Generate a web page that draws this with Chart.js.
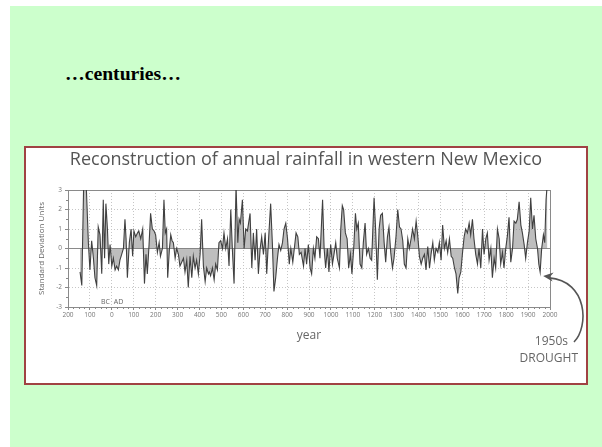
<!DOCTYPE html>
<html>
<head>
<meta charset="utf-8">
<script src="https://cdn.jsdelivr.net/npm/chart.js@4/dist/chart.umd.min.js"></script>
<style>
  html, body { margin: 0; padding: 0; background: #ffffff; width: 602px; height: 447px; overflow: hidden; }
  #slide { position: absolute; left: 10px; top: 6px; right: 0; bottom: 0; background: #ccffcc; }
  #heading { position: absolute; left: 65px; top: 63px; margin: 0; font: bold 19.7px "Liberation Serif", "Times New Roman", serif; line-height: 20px; color: #000; }
  #frame { position: absolute; left: 24px; top: 146px; width: 560px; height: 235px; border: 2px solid #a04343; background: #ffffff; }
  #frame canvas { display: block; }
</style>
</head>
<body>
<div id="slide"></div>
<h2 id="heading">…centuries…</h2>
<div id="frame"><canvas id="rain" width="560" height="235"></canvas></div>
<script>
// Reconstructed annual rainfall, western New Mexico (standard deviation units)
const years = [
  -145, -137, -128, -123, -118, -107, -100, -92, -84, -77, -69, -62, -54, -46, -39, -33, -27, -20, -14, -8,
  0, 7, 15, 22, 30, 37, 45, 53, 60, 65, 71, 80, 88, 95, 101, 109, 117, 123, 132, 141,
  149, 156, 162, 170, 177, 185, 193, 200, 208, 216, 222, 231, 238, 244, 250, 255, 263, 269, 275, 281,
  289, 296, 304, 311, 319, 327, 334, 342, 349, 357, 365, 372, 380, 387, 395, 403, 410, 418, 426, 433,
  441, 445, 451, 459, 467, 474, 482, 489, 497, 505, 512, 520, 528, 535, 543, 550, 558, 567, 575, 581,
  587, 596, 604, 611, 619, 631, 639, 646, 654, 661, 669, 677, 684, 692, 700, 707, 715, 725, 733, 740,
  748, 756, 763, 771, 779, 786, 794, 802, 810, 817, 826, 833, 841, 849, 856, 864, 875, 882, 889, 897,
  905, 912, 920, 927, 935, 943, 950, 962, 969, 976, 984, 991, 999, 1007, 1014, 1022, 1029, 1039, 1045, 1052,
  1058, 1066, 1074, 1081, 1089, 1096, 1104, 1112, 1118, 1125, 1133, 1141, 1148, 1156, 1163, 1171, 1179, 1186, 1197, 1204,
  1212, 1220, 1227, 1235, 1243, 1250, 1258, 1265, 1273, 1281, 1288, 1297, 1305, 1313, 1320, 1328, 1335, 1343, 1351, 1358,
  1366, 1373, 1381, 1389, 1396, 1404, 1412, 1419, 1427, 1434, 1442, 1450, 1457, 1465, 1472, 1480, 1488, 1495, 1503, 1510,
  1518, 1526, 1533, 1541, 1549, 1556, 1564, 1571, 1579, 1585, 1593, 1600, 1608, 1615, 1623, 1631, 1638, 1646, 1653, 1661,
  1669, 1676, 1684, 1692, 1699, 1707, 1714, 1722, 1730, 1737, 1745, 1752, 1760, 1768, 1775, 1783, 1790, 1798, 1806, 1813,
  1821, 1829, 1836, 1844, 1851, 1859, 1867, 1874, 1882, 1889, 1897, 1905, 1912, 1920, 1927, 1935, 1943, 1949, 1955, 1962,
  1970, 1976, 1982, 1988
];
const rainfall = [
  -1.2, -1.9, 3.6, 3.0, 3.6, 0.3, -1.1, 0.4, -0.5, -1.5, -1.9, 1.1, 0.7, -1.3, 2.5, -0.5, 2.3, 1.0, -0.8, 0.2,
  -0.9, -0.5, -1.1, -0.9, -1.1, -0.6, -0.3, 0.0, 1.5, 0.5, -1.5, 0.3, 1.0, -0.4, 0.9, 0.6, 0.8, 0.9, 0.5, 1.0,
  -1.8, -0.3, -1.3, 0.2, 1.8, 1.0, 0.9, 0.7, -0.2, 0.3, -0.4, 0.0, 2.5, 0.8, 1.0, -1.5, 0.0, 0.7, 0.4, 0.3,
  -0.5, 0.0, -0.3, -0.9, -0.7, -0.5, -1.2, -0.6, -2.0, -0.4, -1.5, -0.4, -1.0, -0.6, -1.3, -0.3, 1.5, -0.9, -1.7, -1.0,
  -1.3, -1.2, -1.4, -1.0, -1.6, -0.8, -1.1, 0.3, 0.4, 0.0, 0.8, 0.0, 0.5, -0.9, 2.0, 0.0, -1.8, 3.2, 0.3, 1.5,
  1.3, 2.5, 0.0, 1.0, 0.9, 1.8, -1.0, 0.8, -0.6, 1.0, -1.3, 0.0, 0.6, -0.3, 0.8, -1.3, 0.4, 2.3, 0.2, -2.2,
  -1.5, -0.5, 0.2, -0.1, 0.3, 1.0, 1.3, 0.5, -0.8, 0.0, -0.7, 0.0, 0.8, 0.6, -0.3, -0.2, -0.9, 0.0, -0.8, 0.2,
  -1.0, -1.3, 0.0, -0.5, 0.6, 0.5, -0.5, 2.5, 0.0, -1.0, 0.0, -1.2, 0.2, -0.8, -0.3, 0.3, -0.5, -1.0, 1.0, 2.2,
  2.0, 0.8, 0.5, -1.0, -0.3, -1.3, 0.0, 1.8, 1.0, 1.3, -0.8, -1.0, 0.3, 1.3, -0.3, 0.0, -0.5, -0.6, 2.6, 1.0,
  -1.6, 1.0, 1.7, 1.8, 0.3, -0.7, 0.6, 1.1, -0.2, -1.0, -0.5, 0.6, 2.0, 1.1, 1.0, 0.4, -0.8, -1.0, 0.5, 0.0,
  0.5, 1.0, 0.5, 1.4, 0.7, -0.4, -0.8, -0.5, -0.3, -1.1, 0.1, -1.0, -0.3, 0.3, -0.6, 0.0, -0.2, 0.3, -0.6, 1.2,
  0.0, 0.4, -0.2, 0.5, -0.4, -0.5, -1.0, -1.3, -2.3, -1.5, -1.2, -0.3, 0.6, 1.0, 0.8, 1.3, 0.7, 1.5, 0.5, -0.3,
  -0.8, 0.0, -1.0, 1.0, -0.3, 0.5, 0.8, -0.6, 0.0, -1.5, -0.5, -1.0, 1.0, 0.5, -0.8, -0.2, -1.0, 0.0, 0.7, 1.6,
  -0.7, 0.0, 1.4, 1.3, 1.5, 2.4, 1.2, 0.8, 0.2, -0.5, 0.3, 0.9, 2.6, 1.0, 1.7, 0.5, 0.0, -0.8, -1.2, 0.0,
  0.7, 0.3, 2.5, 3.4
];

// Axis ticks: century marks (BC years shown without sign) and whole standard deviations
const xTickYears = [-200, -100, 0, 100, 200, 300, 400, 500, 600, 700, 800, 900, 1000,
  1100, 1200, 1300, 1400, 1500, 1600, 1700, 1800, 1900, 2000];
const yTickValues = [-3, -2, -1, 0, 1, 2, 3];

// Highlighted event
const droughtYear = 1955;
const droughtValue = -1.2;

const FONT = "'Open Sans', 'DejaVu Sans', sans-serif";
Chart.defaults.font.family = FONT;

const isFrameLine = (scaleId, v) =>
  scaleId === 'x' ? (v === 2000 || v === -200) : (v === 0 || v === 3 || v === -3);

const gridColor = (ctx) =>
  ctx.tick && isFrameLine(ctx.scale.id, ctx.tick.value) ? '#8a8a8a' : '#c6c6c6';
const gridDash = (ctx) =>
  ctx.tick && !isFrameLine(ctx.scale.id, ctx.tick.value) ? [1, 2] : [];

// Minor ticks, era marker and the drought callout
const decorations = {
  id: 'decorations',
  afterDatasetsDraw(chart) {
    const { ctx, chartArea: a, scales: { x, y } } = chart;
    ctx.save();
    ctx.strokeStyle = '#888';
    ctx.lineWidth = 1;
    ctx.beginPath();
    for (let v = -200; v <= 2000; v += 25) {
      if (v % 100 === 0) continue;
      const px = Math.round(x.getPixelForValue(v)) + 0.5;
      ctx.moveTo(px, a.bottom);
      ctx.lineTo(px, a.bottom + 2);
    }
    for (let v = -2.5; v <= 2.5; v += 1) {
      const py = Math.round(y.getPixelForValue(v)) + 0.5;
      ctx.moveTo(a.left - 2, py);
      ctx.lineTo(a.left, py);
    }
    ctx.stroke();

    // BC | AD either side of year zero
    const x0 = x.getPixelForValue(0);
    const yEra = y.getPixelForValue(-2.72);
    ctx.fillStyle = '#666';
    ctx.font = "7px " + FONT;
    ctx.textBaseline = 'middle';
    ctx.textAlign = 'right';
    ctx.fillText('BC', x0 - 2, yEra);
    ctx.textAlign = 'left';
    ctx.fillText('AD', x0 + 2, yEra);

    // Curved arrow pointing at the 1950s low
    const tipX = x.getPixelForValue(droughtYear) + 3;
    const tipY = y.getPixelForValue(droughtValue) + 4;
    const sx = a.right + 24, sy = a.bottom + 35;
    const c1x = a.right + 39, c1y = a.bottom + 20;
    const c2x = a.right + 38, c2y = a.bottom - 26;
    ctx.strokeStyle = '#555';
    ctx.lineWidth = 1.6;
    ctx.beginPath();
    ctx.moveTo(sx, sy);
    ctx.bezierCurveTo(c1x, c1y, c2x, c2y, tipX + 6, tipY + 2);
    ctx.stroke();
    const ang = Math.atan2(tipY - c2y, tipX - c2x);
    const len = 10, half = 4.5;
    ctx.fillStyle = '#555';
    ctx.beginPath();
    ctx.moveTo(tipX, tipY);
    ctx.lineTo(tipX - len * Math.cos(ang) + half * Math.sin(ang), tipY - len * Math.sin(ang) - half * Math.cos(ang));
    ctx.lineTo(tipX - len * 0.7 * Math.cos(ang), tipY - len * 0.7 * Math.sin(ang));
    ctx.lineTo(tipX - len * Math.cos(ang) - half * Math.sin(ang), tipY - len * Math.sin(ang) + half * Math.cos(ang));
    ctx.closePath();
    ctx.fill();

    ctx.fillStyle = '#666';
    ctx.font = "12px " + FONT;
    ctx.textAlign = 'right';
    ctx.textBaseline = 'alphabetic';
    ctx.fillText('1950s', a.right + 18, a.bottom + 38);
    ctx.fillText('DROUGHT', a.right + 28, a.bottom + 55);
    ctx.restore();
  }
};

new Chart(document.getElementById('rain'), {
  type: 'line',
  data: {
    datasets: [{
      data: years.map((yr, i) => ({ x: yr, y: rainfall[i] })),
      borderColor: '#404040',
      borderWidth: 1.1,
      backgroundColor: 'rgba(125,125,125,0.5)',
      fill: 'origin',
      pointRadius: 0,
      tension: 0,
      clip: 0
    }]
  },
  options: {
    responsive: false,
    animation: false,
    events: [],
    layout: { padding: 0 },
    plugins: {
      legend: { display: false },
      tooltip: { enabled: false },
      title: {
        display: true,
        text: 'Reconstruction of annual rainfall in western New Mexico',
        color: '#555',
        font: { size: 18, weight: 'normal' },
        padding: { top: 1.2, bottom: 19.2 }
      }
    },
    scales: {
      x: {
        type: 'linear',
        min: -200,
        max: 2000,
        afterBuildTicks: (s) => { s.ticks = xTickYears.map(v => ({ value: v })); },
        // room on the right of the plot for the callout
        afterFit: (s) => { s.height = 76; s.paddingRight = 36; },
        ticks: {
          callback: (v) => String(Math.abs(v)),
          autoSkip: false,
          maxRotation: 0,
          color: '#777',
          font: { size: 6.5 },
          padding: 1
        },
        grid: { color: gridColor, tickColor: '#888', tickLength: 3, lineWidth: 1 },
        border: { color: '#8a8a8a', dash: gridDash },
        title: {
          display: true,
          text: 'year',
          color: '#666',
          font: { size: 12 },
          padding: { top: 0, bottom: 40 }
        }
      },
      y: {
        min: -3,
        max: 3,
        afterBuildTicks: (s) => { s.ticks = yTickValues.map(v => ({ value: v })); },
        afterFit: (s) => { s.width = 42; },
        ticks: { color: '#777', font: { size: 6.5 }, padding: 3 },
        grid: { color: gridColor, tickColor: '#888', tickLength: 3, lineWidth: 1 },
        border: { color: '#8a8a8a', dash: gridDash },
        title: {
          display: true,
          text: 'Standard Deviation Units',
          color: '#666',
          font: { size: 8 },
          padding: { top: 11, bottom: 0 }
        }
      }
    }
  },
  plugins: [decorations]
});
</script>
</body>
</html>
